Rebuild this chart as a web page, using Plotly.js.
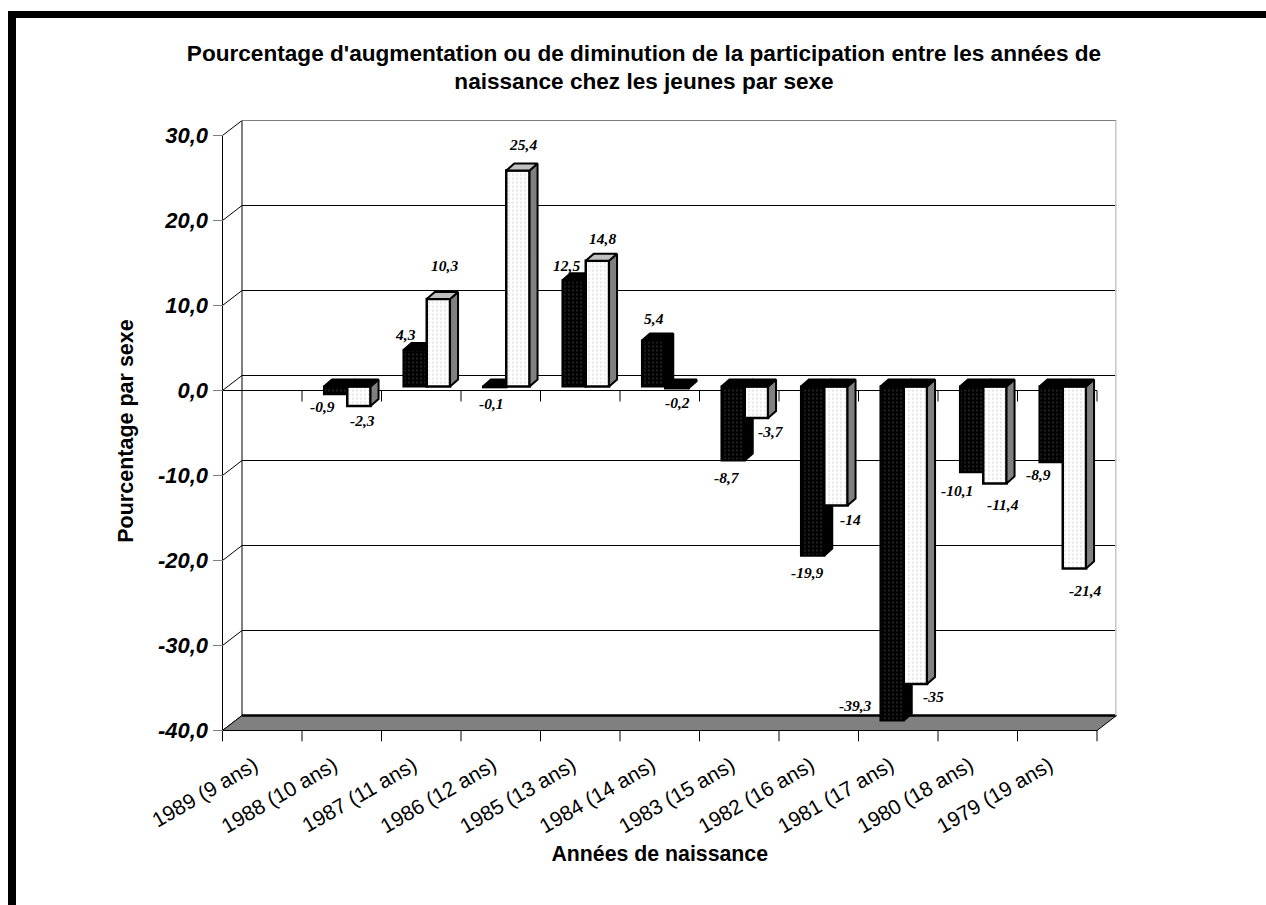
<!DOCTYPE html>
<html><head><meta charset="utf-8">
<script src="https://cdn.plot.ly/plotly-3.0.1.min.js"></script>
<style>html,body{margin:0;padding:0;background:#fff}#c{width:1266px;height:905px}</style>
</head><body><div id="c"></div>
<script>
const categories=["1989 (9 ans)","1988 (10 ans)","1987 (11 ans)","1986 (12 ans)","1985 (13 ans)","1984 (14 ans)","1983 (15 ans)","1982 (16 ans)","1981 (17 ans)","1980 (18 ans)","1979 (19 ans)"];
const seriesDark=[null,-0.9,4.3,-0.1,12.5,5.4,-8.7,-19.9,-39.3,-10.1,-8.9];
const seriesLight=[null,-2.3,10.3,25.4,14.8,-0.2,-3.7,-14,-35,-11.4,-21.4];
const yTicks=[30,20,10,0,-10,-20,-30,-40];
// label offsets in px from (category centre, bar value)
const darkLabelShift=[null,[-19,8],[-16,-19],[-9,12],[-14,-19],[-6,-26],[-12,13],[-11,13],[-43,-19],[-21,14],[-19,8]];
const lightLabelShift=[null,[21,10],[23,-37],[22,-30],[22,-26],[18,10],[32,10],[32,10],[35,8],[25,17],[28,18]];

const W=1266,H=905;
const pxX=79.5,pxY=8.5;                 // px per category / per percentage point
const wallDX=19.5/pxX,wallDY=15/pxY;     // depth of the back wall
const tickDY=11/pxY;
const barW=23.3/pxX,barShift=5.5/pxX,barBase=4/pxY;
const sideDX=8/pxX,sideDY=7/pxY;
const labelShift=8/pxX;
const n=categories.length;
const xRange=[-wallDX,n+wallDX],yRange=[yTicks[yTicks.length-1]-tickDY,yTicks[0]+wallDY];
const xDomain=[203/W,1116.5/W],yDomain=[1-741.5/H,1-120.5/H];
const yBottom=yTicks[yTicks.length-1],yTop=yTicks[0];
const cx=categories.map((c,i)=>i+0.5);
const fmt=v=>String(v).replace('.',',');
const serif='"Liberation Serif",serif',sans='"Liberation Sans",Arial,sans-serif';

function faces(vals,left,topColorPos,topColorNeg,sideColor,xa,ya){
  const out=[];
  const poly=(xs,ys,color)=>out.push({type:'scatter',mode:'lines',x:xs,y:ys,fill:'toself',fillcolor:color,
    line:{color:'#000',width:2},hoverinfo:'skip',showlegend:false,xaxis:xa,yaxis:ya});
  vals.forEach((v,i)=>{
    if(v===null)return;
    const xl=i+0.5+barShift+left,xr=xl+barW;
    const top=Math.max(v,0)+barBase,bot=Math.min(v,0)+barBase;
    poly([xr,xr+sideDX,xr+sideDX,xr,xr],[top,top+sideDY,bot+sideDY,bot,top],sideColor);
    poly([xl,xl+sideDX,xr+sideDX,xr,xl],[top,top+sideDY,top+sideDY,top,top],v>=0?topColorPos:topColorNeg);
  });
  return out;
}
const barTrace=(name,vals,off,fill,xa,ya)=>({type:'bar',name,x:cx,y:vals,base:barBase,width:barW,offset:barShift+off,
  marker:fill,xaxis:xa,yaxis:ya,showlegend:false});

const data=[
  barTrace('Série 1',seriesDark,-barW,{color:'#000',line:{color:'#000',width:2},pattern:{shape:'.',fgcolor:'#2a2a2a',bgcolor:'#000',size:4,solidity:0.2}},'x','y'),
  ...faces(seriesDark,-barW,'#000','#000','#000','x','y'),
  barTrace('Série 2',seriesLight,0,{color:'#fff',line:{color:'#000',width:2.5},pattern:{shape:'.',fgcolor:'#d0d0d0',bgcolor:'#fff',size:4,solidity:0.15}},'x2','y2'),
  ...faces(seriesLight,0,'#c0c0c0','#000','#808080','x2','y2')
];

const shapes=[];
const seg=(x0,y0,x1,y1,color,width)=>shapes.push({type:'line',layer:'below',xref:'x',yref:'y',x0,y0,x1,y1,line:{color:color||'#000',width:width||1}});
// back wall gridlines and side-wall diagonals
yTicks.forEach(v=>{
  seg(wallDX,v+wallDY,n+wallDX,v+wallDY,'#000',1);
  seg(0,v,wallDX,v+wallDY,'#000',1);
});
// floor
shapes.push({type:'path',layer:'below',xref:'x',yref:'y',
  path:`M0,${yBottom} L${n},${yBottom} L${n+wallDX},${yBottom+wallDY} L${wallDX},${yBottom+wallDY} Z`,
  fillcolor:'#808080',line:{color:'#000',width:1}});
seg(wallDX,yBottom+wallDY,n+wallDX,yBottom+wallDY,'#000',2.5);
// wall verticals
seg(wallDX,yBottom+wallDY,wallDX,yTop+wallDY,'#000',1);
seg(n+wallDX,yBottom+wallDY,n+wallDX,yTop+wallDY,'#c8c8c8',3);
seg(0,yBottom,0,yTop,'#000',1);
// front zero line and category ticks
seg(0,0,n,0,'#000',1);
for(let k=0;k<=n;k++){seg(k,0,k,-tickDY,'#000',1);seg(k,yBottom,k,yBottom-tickDY,'#000',1);}
// page frame
shapes.push({type:'rect',xref:'paper',yref:'paper',x0:8/W,x1:16/W,y0:0,y1:1-11/H,fillcolor:'#000',line:{width:0}});
shapes.push({type:'rect',xref:'paper',yref:'paper',x0:8/W,x1:1,y0:1-18/H,y1:1-11/H,fillcolor:'#000',line:{width:0}});

const annotations=[];
const addLabels=(vals,shift)=>vals.forEach((v,i)=>{
  if(v===null)return;
  annotations.push({xref:'x',yref:'y',x:cx[i],y:v,text:fmt(v),showarrow:false,xanchor:'center',yanchor:'middle',
    xshift:shift[i][0],yshift:-shift[i][1],font:{family:serif,size:15.5,color:'#000',weight:'bold',style:'italic'}});
});
addLabels(seriesDark,darkLabelShift);
addLabels(seriesLight,lightLabelShift);

const layout={
  width:W,height:H,margin:{l:0,r:0,t:0,b:0,autoexpand:false},paper_bgcolor:'#fff',plot_bgcolor:'rgba(0,0,0,0)',
  showlegend:false,barmode:'overlay',
  title:{text:"<span style='font-size:22.6px'>Pourcentage d'augmentation ou de diminution de la participation entre les années de<br>naissance chez les jeunes par sexe</span>",
    font:{family:sans,size:21.5,color:'#000',weight:'bold'},x:644/W,xanchor:'center',xref:'paper',y:1-61/H,yanchor:'top',yref:'paper',automargin:false},
  xaxis:{domain:xDomain,range:xRange,anchor:'y',tickmode:'array',tickvals:cx.map(c=>c-labelShift),ticktext:categories,ticks:'',tickangle:-30,ticklabelstandoff:7,
    showgrid:false,zeroline:false,showline:false,tickfont:{family:sans,size:21,color:'#000'}},
  yaxis:{domain:yDomain,range:yRange,anchor:'free',position:222.5/W,tickmode:'array',tickvals:yTicks,ticktext:yTicks.map(v=>v.toFixed(1).replace('.',',')),
    ticks:'outside',ticklen:10,tickcolor:'#808080',tickwidth:1,showgrid:false,zeroline:false,showline:false,
    tickfont:{family:sans,size:22,color:'#000',weight:'bold',style:'italic'},
    title:{text:'Pourcentage par sexe',font:{family:sans,size:21.5,color:'#000',weight:'bold'},standoff:17}},
  xaxis2:{domain:xDomain,range:xRange,overlaying:'x',anchor:'y2',showticklabels:false,ticks:'',showgrid:false,zeroline:false,showline:false,
    title:{text:'Années de naissance',font:{family:sans,size:21.3,color:'#000',weight:'bold'},standoff:104}},
  yaxis2:{domain:yDomain,range:yRange,overlaying:'y',anchor:'x2',visible:false},
  shapes,annotations
};
Plotly.newPlot('c',data,layout,{displayModeBar:false,staticPlot:true});
</script></body></html>
